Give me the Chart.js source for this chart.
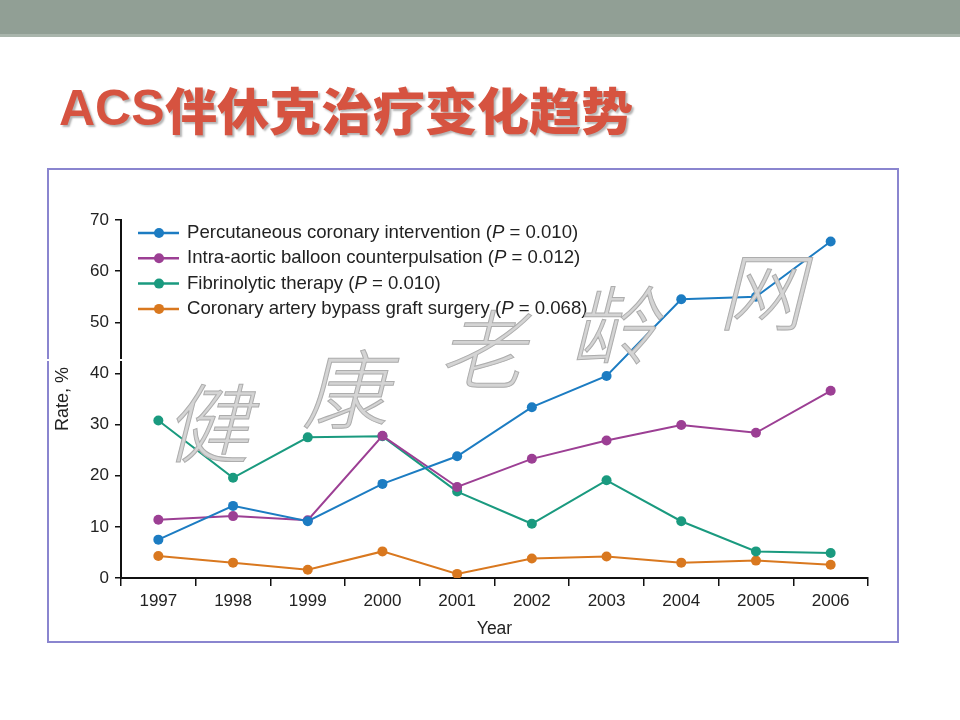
<!DOCTYPE html>
<html>
<head>
<meta charset="utf-8">
<script src="https://cdn.jsdelivr.net/npm/chart.js@4/dist/chart.umd.min.js"></script>
<style>
  body { margin: 0; background: #fff; width: 960px; height: 720px; position: relative; overflow: hidden; }
  #topbar { position: absolute; left: 0; top: 0; width: 960px; height: 34px; background: #919f95; border-bottom: 3px solid #a9b5ac; }
  #title { position: absolute; left: 59px; top: 75px; font-size: 50px; color: #d65340; white-space: nowrap;
           text-shadow: 2px 2px 2px rgba(0,0,0,0.3); line-height: 66px; }
  #title .lat { font-family: "Liberation Sans", Arial, sans-serif; font-weight: bold; display: inline-block; vertical-align: top; }
  #title .cjk { font-family: "Noto Sans CJK SC", sans-serif; font-weight: 900; display: inline-block; vertical-align: top;
                transform: scaleX(1.04); transform-origin: left center; }
  #box { position: absolute; left: 47px; top: 168px; width: 848px; height: 471px; border: 2px solid #8a85cf; }
  #wrap { position: absolute; left: 49px; top: 170px; width: 848px; height: 471px; }
  .wm { position: absolute; font-family: "Noto Sans CJK SC", sans-serif; font-size: 86px; font-weight: 300; font-style: italic;
        color: #d4d4d4; -webkit-text-stroke: 1px #adadad; line-height: 1; }
  #gap { position: absolute; left: 44px; top: 359px; width: 80px; height: 2px; background: #fff; }
</style>
</head>
<body>
<div id="topbar"></div>
<div id="title"><span class="lat">ACS</span><span class="cjk">伴休克治疗变化趋势</span></div>
<div id="box"></div>
<div id="wrap"><canvas id="Chart" width="848" height="471"></canvas></div>
<div id="gap"></div>
<div class="wm" style="left:164px;top:376px;">健</div>
<div class="wm" style="left:302px;top:342px;">康</div>
<div class="wm" style="left:438px;top:302px;">老</div>
<div class="wm" style="left:570px;top:278px;">龄</div>
<div class="wm" style="left:718px;top:244px;">网</div>
<script>
let years = ['1997','1998','1999','2000','2001','2002','2003','2004','2005','2006'];

let pci  = [7.5, 14.1, 11.1, 18.4, 23.8, 33.4, 39.5, 54.5, 55.0, 65.8];
let iabp = [11.4, 12.1, 11.3, 27.8, 17.8, 23.3, 26.9, 29.9, 28.4, 36.6];
let fibr = [30.8, 19.6, 27.5, 27.7, 16.9, 10.6, 19.1, 11.1, 5.2, 4.9];
let cabg = [4.3, 3.0, 1.6, 5.2, 0.8, 3.8, 4.2, 3.0, 3.4, 2.6];

let names  = ['Percutaneous coronary intervention', 'Intra-aortic balloon counterpulsation', 'Fibrinolytic therapy', 'Coronary artery bypass graft surgery'];
let pvals  = ['0.010', '0.012', '0.010', '0.068'];
let colors = ['#1c7cc2', '#9c3f94', '#1a9a7f', '#d9781f'];

let yTicks = [0, 10, 20, 30, 40, 50, 60, 70];

let font = 'Liberation Sans, Arial, sans-serif';

function makeSet(i, data) {
    return {
        label: names[i],
        data: data,
        borderColor: colors[i],
        backgroundColor: colors[i],
        borderWidth: 2,
        pointRadius: 5,
        pointBorderWidth: 0,
        tension: 0
    };
}

// legend with italic P, drawn by hand
let pLegend = {
    id: 'pLegend',
    afterDraw(chart) {
        let ctx = chart.ctx;
        let f = '18.6px ' + font;
        ctx.save();
        ctx.textBaseline = 'middle';
        for (let i = 0; i < names.length; i++) {
            let y = 63 + i * 25.3;
            ctx.strokeStyle = colors[i];
            ctx.lineWidth = 2.5;
            ctx.beginPath();
            ctx.moveTo(89, y);
            ctx.lineTo(130, y);
            ctx.stroke();
            ctx.fillStyle = colors[i];
            ctx.beginPath();
            ctx.arc(110, y, 5, 0, Math.PI * 2);
            ctx.fill();
            ctx.fillStyle = '#222';
            let x = 138;
            ctx.font = f;
            let s1 = names[i] + ' (';
            ctx.fillText(s1, x, y);
            x += ctx.measureText(s1).width;
            ctx.font = 'italic ' + f;
            ctx.fillText('P', x, y);
            x += ctx.measureText('P').width;
            ctx.font = f;
            ctx.fillText(' = ' + pvals[i] + ')', x, y);
        }
        ctx.restore();
    }
};

let graph = document.getElementById('Chart');

let chartData = {
    type: 'line',
    data: {
        labels: years,
        datasets: [makeSet(0, pci), makeSet(1, iabp), makeSet(2, fibr), makeSet(3, cabg)]
    },
    options: {
        responsive: false,
        animation: false,
        layout: { padding: { top: 50, right: 29, left: 0, bottom: 0 } },
        plugins: { legend: { display: false }, tooltip: { enabled: false } },
        scales: {
            x: {
                offset: true,
                grid: { offset: true, drawOnChartArea: false, tickLength: 8, color: '#111', lineWidth: 1.5 },
                border: { color: '#111', width: 2 },
                ticks: { color: '#222', font: { family: font, size: 17 }, padding: 5, maxRotation: 0 },
                title: { display: true, text: 'Year', color: '#222', font: { family: font, size: 17.5 }, padding: { top: 0, bottom: 1 } },
                afterFit(scale) { scale.height = 63; }
            },
            y: {
                min: 0,
                max: 70,
                afterBuildTicks(scale) { scale.ticks = yTicks.map(v => ({ value: v })); },
                grid: { drawOnChartArea: false, tickLength: 6, color: '#111', lineWidth: 1.5 },
                border: { color: '#111', width: 2 },
                ticks: { color: '#222', font: { family: font, size: 17 }, padding: 6 },
                title: { display: true, text: 'Rate, %', color: '#222', font: { family: font, size: 18 }, padding: { top: 3, bottom: 0 } },
                afterFit(scale) { scale.width = 72; }
            }
        }
    },
    plugins: [pLegend]
};

let presentdata = new Chart(graph, chartData);
</script>
</body>
</html>
